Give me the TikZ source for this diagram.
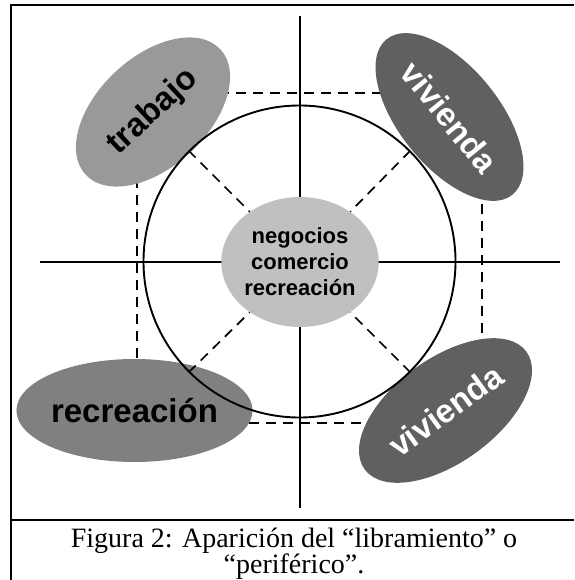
\documentclass[tikz,border=0pt]{standalone}
\usepackage{fontspec}
\setmainfont{Liberation Serif}
\newfontfamily\arialfont{Liberation Sans}
\usepackage{xcolor}
\usetikzlibrary{shapes.geometric}
\definecolor{zonelight}{HTML}{C0C0C0}
\definecolor{zonemid}{HTML}{999999}
\definecolor{zonegray}{HTML}{808080}
\definecolor{zonedark}{HTML}{606060}
\tikzset{
    zone/.style={ellipse, inner sep=0pt, align=center,
        font=\arialfont\bfseries\fontsize{33}{36}\selectfont},
    ringroad/.style={line width=1.7pt, dash pattern=on 10pt off 7pt},
    axis/.style={line width=1.6pt},
    frame/.style={line width=1.6pt}
}

\begin{document}
\begin{tikzpicture}[x=1pt,y=-1pt]
    \useasboundingbox (0,0) rectangle (574,580);

    % frame and caption
    \draw[frame] (574,5) -- (11,5) -- (11,580);
    \draw[frame] (11,520) -- (574,520);
    \node[font=\fontsize{28}{25.5}\selectfont, align=center, anchor=north] (cap) at (294,524)
        {Figura 2: Aparición del “libramiento” o\\“periférico”.};

    % ring road
    \draw[ringroad] (137,93) rectangle (482,423);

    % axes
    \coordinate (n) at (300,16);
    \coordinate (s) at (300,508);
    \coordinate (w) at (40,262);
    \coordinate (e) at (560,262);
    \draw[axis] (n) -- (s);
    \draw[axis] (w) -- (e);

    % outer zones
    \node[zone, fill=zonemid, minimum width=184pt, minimum height=110pt, rotate=43]
        (trab) at (153,112) {trabajo};
    \node[zone, fill=zonedark, text=white, minimum width=200pt, minimum height=100pt, rotate=-51]
        (viv1) at (449.5,117) {vivienda};
    \node[zone, fill=zonedark, text=white, minimum width=200pt, minimum height=104pt, rotate=36]
        (viv2) at (445.5,410.5) {vivienda};
    \node[zone, fill=zonegray, minimum width=175pt, minimum height=103pt]
        (recr) at (134.5,410.5) {recreación};

    % city
    \node[circle, draw, line width=1.9pt, minimum size=312pt] (o) at (299.5,261.5) {};
    \node[zone, fill=zonelight, minimum width=156pt, minimum height=130pt,
        font=\arialfont\bfseries\fontsize{22}{26}\selectfont]
        (c) at (300,262) {negocios\\comercio\\recreación};

    \draw[ringroad] (o.45)  -- (c.45);
    \draw[ringroad] (o.135) -- (c.135);
    \draw[ringroad] (o.225) -- (c.225);
    \draw[ringroad] (o.315) -- (c.315);
\end{tikzpicture}
\end{document}
